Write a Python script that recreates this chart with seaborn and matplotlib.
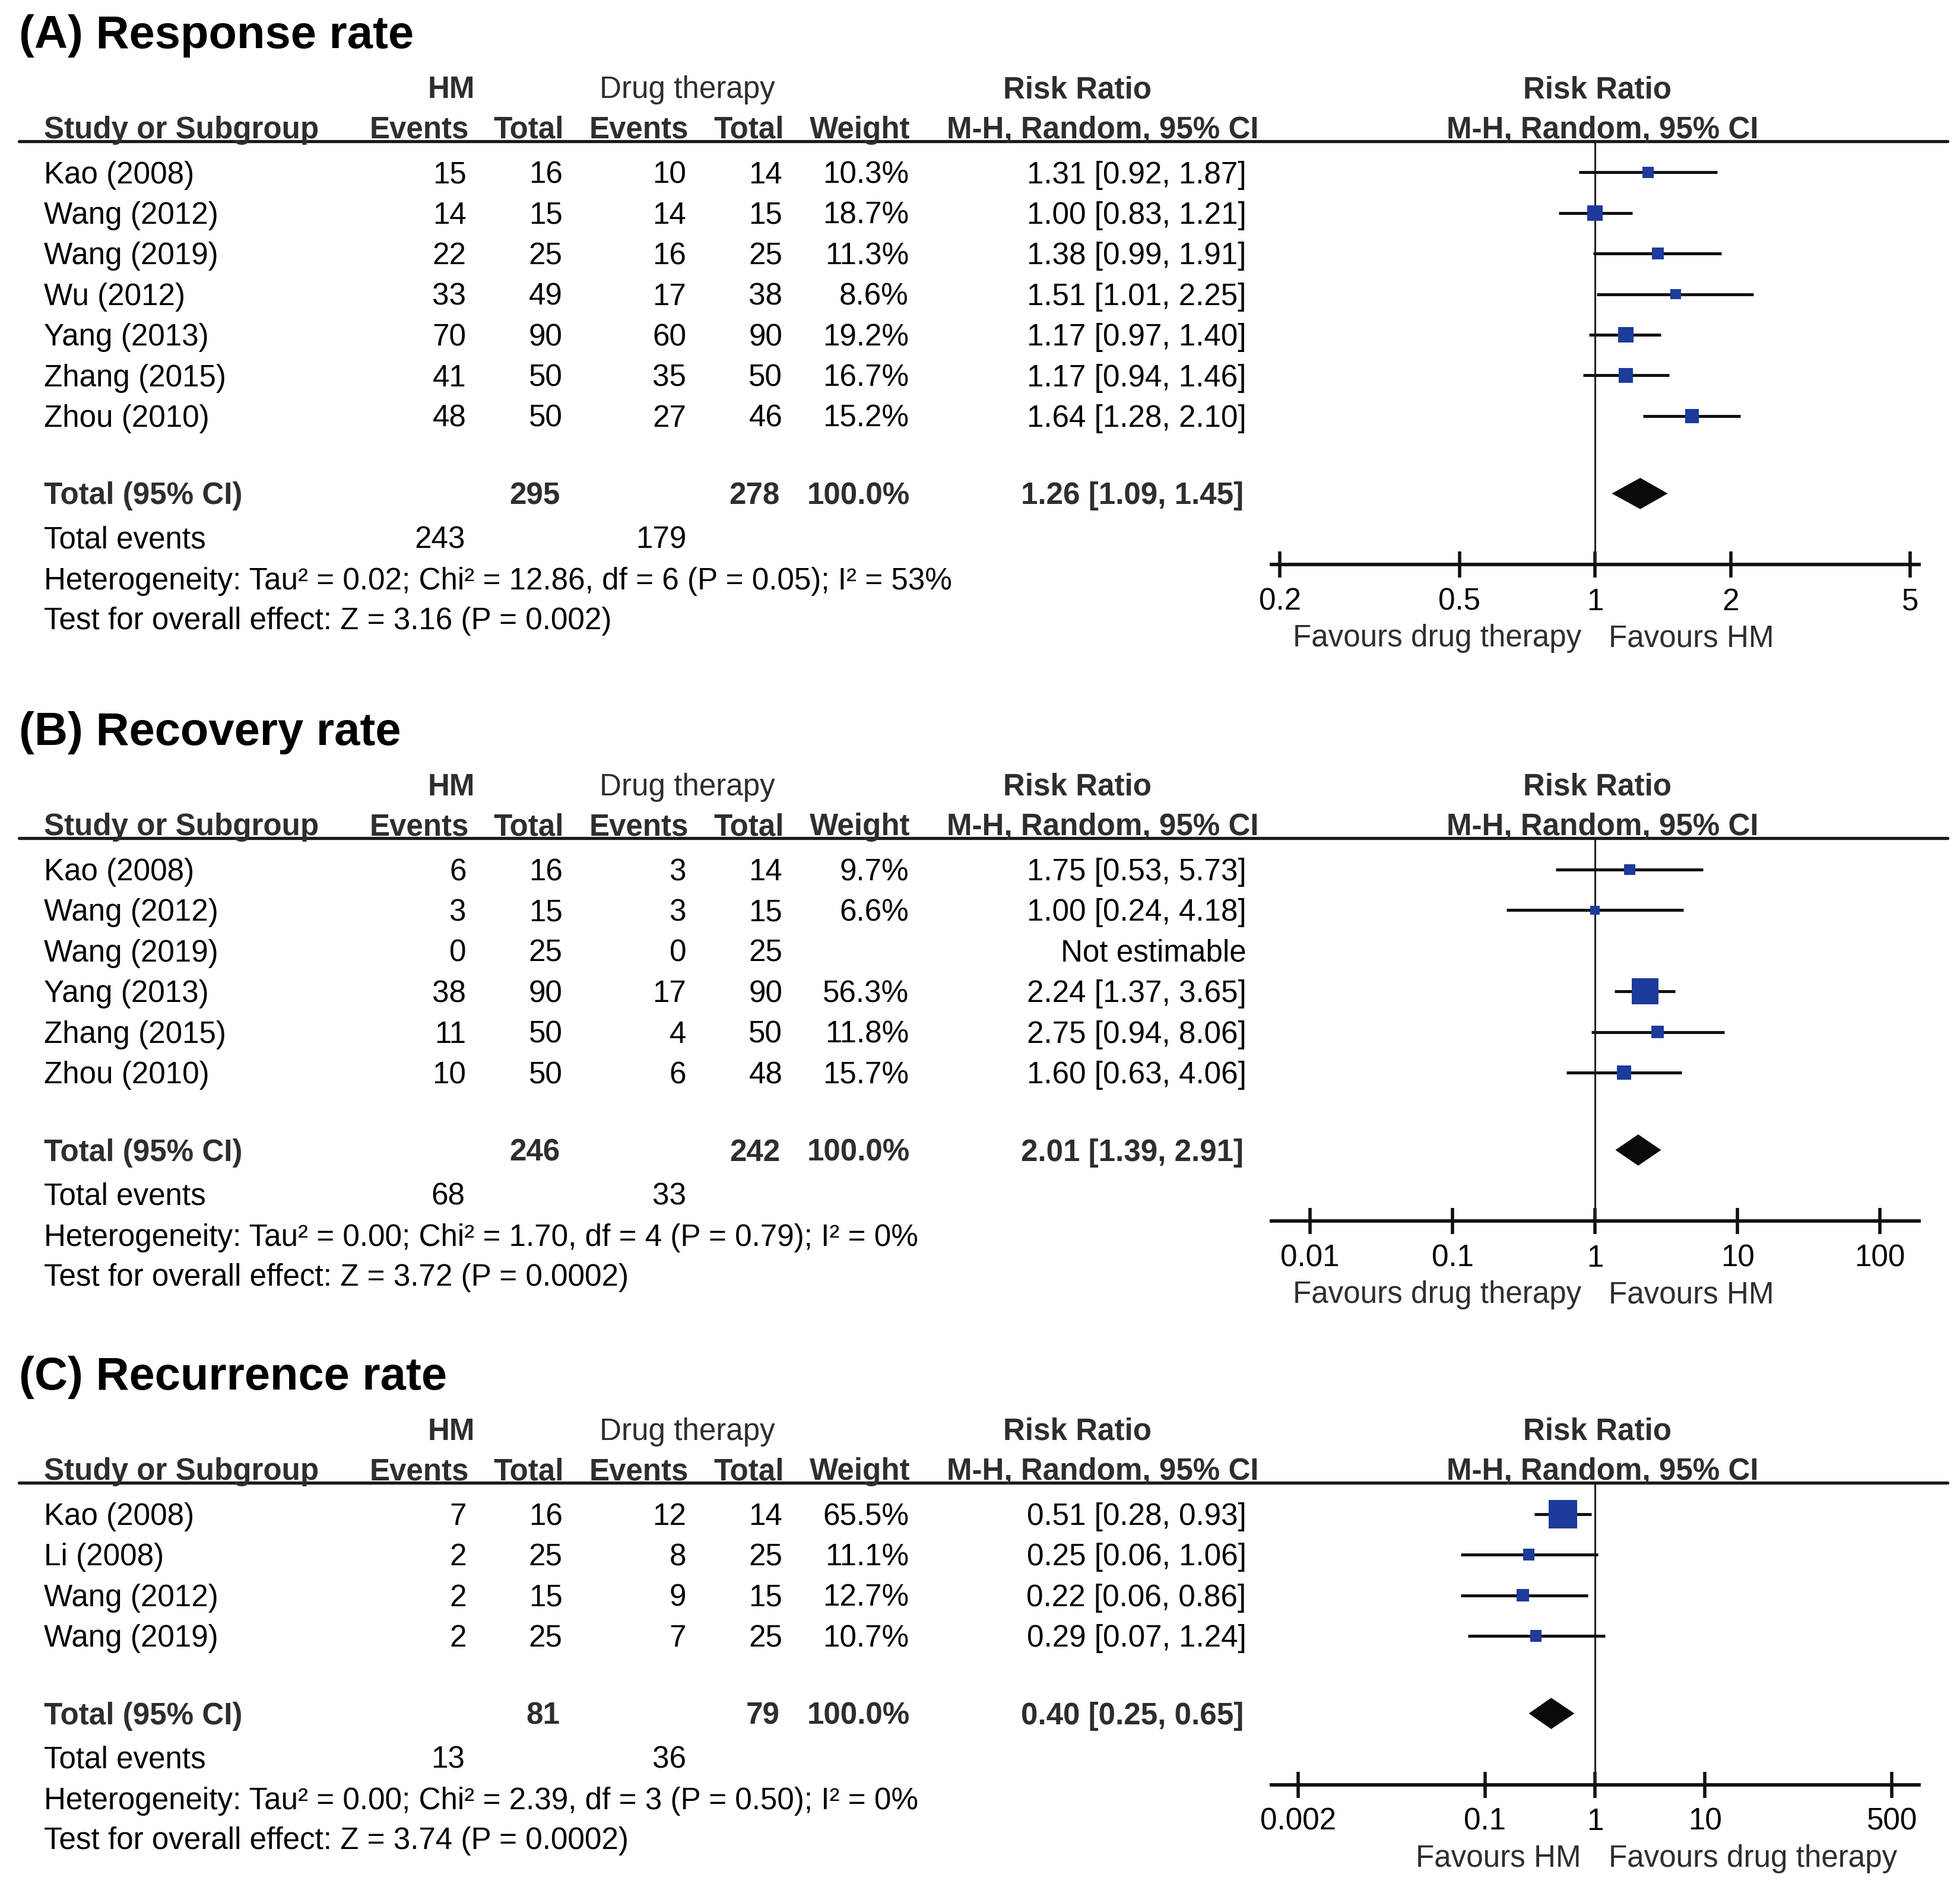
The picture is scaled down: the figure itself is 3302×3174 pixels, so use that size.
import numpy as np
import pandas as pd
import matplotlib
matplotlib.use("Agg")
import matplotlib.pyplot as plt
import seaborn as sns

# ---------------- data ----------------
# (A) Response rate
a_studies = ["Kao (2008)", "Wang (2012)", "Wang (2019)", "Wu (2012)", "Yang (2013)", "Zhang (2015)", "Zhou (2010)"]
a_hm_events = [15, 14, 22, 33, 70, 41, 48]
a_hm_total = [16, 15, 25, 49, 90, 50, 50]
a_dt_events = [10, 14, 16, 17, 60, 35, 27]
a_dt_total = [14, 15, 25, 38, 90, 50, 46]
a_weight = [10.3, 18.7, 11.3, 8.6, 19.2, 16.7, 15.2]
a_rr = [1.31, 1.00, 1.38, 1.51, 1.17, 1.17, 1.64]
a_lo = [0.92, 0.83, 0.99, 1.01, 0.97, 0.94, 1.28]
a_hi = [1.87, 1.21, 1.91, 2.25, 1.40, 1.46, 2.10]
a_sum = [295, 278, 243, 179]          # HM total, drug total, HM events, drug events
a_pooled = [1.26, 1.09, 1.45]
a_het = "Heterogeneity: Tau² = 0.02; Chi² = 12.86, df = 6 (P = 0.05); I² = 53%"
a_test = "Test for overall effect: Z = 3.16 (P = 0.002)"
a_ticks = [0.2, 0.5, 1, 2, 5]
a_ticklabels = ["0.2", "0.5", "1", "2", "5"]
a_favours = ["Favours drug therapy", "Favours HM"]

# (B) Recovery rate
b_studies = ["Kao (2008)", "Wang (2012)", "Wang (2019)", "Yang (2013)", "Zhang (2015)", "Zhou (2010)"]
b_hm_events = [6, 3, 0, 38, 11, 10]
b_hm_total = [16, 15, 25, 90, 50, 50]
b_dt_events = [3, 3, 0, 17, 4, 6]
b_dt_total = [14, 15, 25, 90, 50, 48]
b_weight = [9.7, 6.6, np.nan, 56.3, 11.8, 15.7]
b_rr = [1.75, 1.00, np.nan, 2.24, 2.75, 1.60]
b_lo = [0.53, 0.24, np.nan, 1.37, 0.94, 0.63]
b_hi = [5.73, 4.18, np.nan, 3.65, 8.06, 4.06]
b_sum = [246, 242, 68, 33]
b_pooled = [2.01, 1.39, 2.91]
b_het = "Heterogeneity: Tau² = 0.00; Chi² = 1.70, df = 4 (P = 0.79); I² = 0%"
b_test = "Test for overall effect: Z = 3.72 (P = 0.0002)"
b_ticks = [0.01, 0.1, 1, 10, 100]
b_ticklabels = ["0.01", "0.1", "1", "10", "100"]
b_favours = ["Favours drug therapy", "Favours HM"]

# (C) Recurrence rate
c_studies = ["Kao (2008)", "Li (2008)", "Wang (2012)", "Wang (2019)"]
c_hm_events = [7, 2, 2, 2]
c_hm_total = [16, 25, 15, 25]
c_dt_events = [12, 8, 9, 7]
c_dt_total = [14, 25, 15, 25]
c_weight = [65.5, 11.1, 12.7, 10.7]
c_rr = [0.51, 0.25, 0.22, 0.29]
c_lo = [0.28, 0.06, 0.06, 0.07]
c_hi = [0.93, 1.06, 0.86, 1.24]
c_sum = [81, 79, 13, 36]
c_pooled = [0.40, 0.25, 0.65]
c_het = "Heterogeneity: Tau² = 0.00; Chi² = 2.39, df = 3 (P = 0.50); I² = 0%"
c_test = "Test for overall effect: Z = 3.74 (P = 0.0002)"
c_ticks = [0.002, 0.1, 1, 10, 500]
c_ticklabels = ["0.002", "0.1", "1", "10", "500"]
c_favours = ["Favours HM", "Favours drug therapy"]

# ---------------- style ----------------
sns.set_theme(style="white")
plt.rcParams["font.family"] = ["Liberation Sans", "DejaVu Sans"]

BODY = 18.4
TITLE = 28
HDR = "#2e2e2e"
BLUE = "#1c3b9a"

W, H = 1568.0, 1508.0   # layout grid (reference proportions)


def fx(x):
    return x / W


def fy(y):
    return 1 - y / H


fig = plt.figure(figsize=(16.51, 15.87), dpi=200)


def put(x, y, s, ha="left", bold=False, size=BODY, color="black", half=8.6):
    fig.text(fx(x), fy(y + half), s, ha=ha, va="baseline", fontsize=size,
             fontweight="bold" if bold else "normal", color=color)


def draw_panel(title, line_y, studies, hm_e, hm_t, dt_e, dt_t, weight, rr, lo, hi,
               sums, pooled, het, test, ticks, ticklabels, favours, half_decades):
    rows_y = [line_y + 25 + 32.5 * i for i in range(len(studies))]
    tot_y = rows_y[-1] + 62
    axis_y = tot_y + 57

    # titles and headers
    put(15, line_y - 88, title, bold=True, size=TITLE, half=13.3)
    put(361, line_y - 43, "HM", ha="center", bold=True, color=HDR)
    put(550, line_y - 43, "Drug therapy", ha="center", color=HDR)
    put(862, line_y - 43, "Risk Ratio", ha="center", bold=True, color=HDR)
    put(1278, line_y - 43, "Risk Ratio", ha="center", bold=True, color=HDR)
    h2 = line_y - 11
    put(35, h2, "Study or Subgroup", bold=True, color=HDR)
    put(375, h2, "Events", ha="right", bold=True, color=HDR)
    put(451, h2, "Total", ha="right", bold=True, color=HDR)
    put(551, h2, "Events", ha="right", bold=True, color=HDR)
    put(627, h2, "Total", ha="right", bold=True, color=HDR)
    put(728, h2, "Weight", ha="right", bold=True, color=HDR)
    put(1007, h2, "M-H, Random, 95% CI", ha="right", bold=True, color=HDR)
    put(1282, h2, "M-H, Random, 95% CI", ha="center", bold=True, color=HDR)
    fig.add_artist(plt.Line2D([fx(15), fx(1558)], [fy(line_y), fy(line_y)],
                              transform=fig.transFigure, color="#1a1a1a", lw=1.9))

    # study rows
    for i, y in enumerate(rows_y):
        put(35, y, studies[i])
        put(373, y, str(hm_e[i]), ha="right")
        put(450, y, str(hm_t[i]), ha="right")
        put(549, y, str(dt_e[i]), ha="right")
        put(626, y, str(dt_t[i]), ha="right")
        if not np.isnan(weight[i]):
            put(727, y, f"{weight[i]:.1f}%", ha="right")
            put(997, y, f"{rr[i]:.2f} [{lo[i]:.2f}, {hi[i]:.2f}]", ha="right")
        else:
            put(997, y, "Not estimable", ha="right")

    # totals
    put(35, tot_y, "Total (95% CI)", bold=True, color=HDR)
    put(448, tot_y, str(sums[0]), ha="right", bold=True, color=HDR)
    put(624, tot_y, str(sums[1]), ha="right", bold=True, color=HDR)
    put(728, tot_y, "100.0%", ha="right", bold=True, color=HDR)
    put(995, tot_y, f"{pooled[0]:.2f} [{pooled[1]:.2f}, {pooled[2]:.2f}]", ha="right", bold=True, color=HDR)
    put(35, tot_y + 35, "Total events")
    put(372, tot_y + 35, str(sums[2]), ha="right")
    put(549, tot_y + 35, str(sums[3]), ha="right")
    put(35, tot_y + 68, het)
    put(35, tot_y + 100, test)

    # forest plot
    ax = fig.add_axes([fx(1017), fy(axis_y), fx(1535) - fx(1017), (axis_y - line_y) / H])
    ax.patch.set_visible(False)
    ax.set_xscale("log")

    df = pd.DataFrame({"rr": rr, "lo": lo, "hi": hi, "w": weight, "y": rows_y}).dropna()
    ax.hlines(df["y"], df["lo"], df["hi"], color="#111111", lw=1.8, zorder=2)
    sns.scatterplot(data=df, x="rr", y="y", size="w", sizes=(4.6 * df["w"].min(), 4.6 * df["w"].max()),
                    size_norm=(df["w"].min(), df["w"].max()), marker="s", color=BLUE,
                    linewidth=0, legend=False, ax=ax, zorder=3)
    dh = 12.5
    ax.fill([pooled[1], pooled[0], pooled[2], pooled[0]],
            [tot_y, tot_y - dh, tot_y, tot_y + dh], color="#0a0a0a", zorder=3, lw=0)
    ax.axvline(1, color="#222222", lw=1.1, zorder=1)

    ax.set_xlim(10 ** -half_decades, 10 ** half_decades)
    ax.set_ylim(axis_y, line_y)
    ax.set_xlabel("")
    ax.set_ylabel("")
    ax.set_yticks([])
    ax.set_xticks(ticks)
    ax.set_xticklabels(ticklabels)
    ax.xaxis.set_minor_locator(matplotlib.ticker.NullLocator())
    for side in ["top", "left", "right"]:
        ax.spines[side].set_visible(False)
    ax.spines["bottom"].set_linewidth(2.1)
    ax.spines["bottom"].set_color("#111111")
    ax.tick_params(axis="x", which="major", bottom=True, direction="inout", length=15.5, width=2.0,
                   color="#111111", labelsize=BODY, labelcolor="black", pad=6)

    put(1265, axis_y + 57, favours[0], ha="right", color=HDR)
    put(1287, axis_y + 57, favours[1], ha="left", color=HDR)


draw_panel("(A) Response rate", 113, a_studies, a_hm_events, a_hm_total, a_dt_events, a_dt_total,
           a_weight, a_rr, a_lo, a_hi, a_sum, a_pooled, a_het, a_test, a_ticks, a_ticklabels,
           a_favours, 0.7184)
draw_panel("(B) Recovery rate", 671, b_studies, b_hm_events, b_hm_total, b_dt_events, b_dt_total,
           b_weight, b_rr, b_lo, b_hi, b_sum, b_pooled, b_het, b_test, b_ticks, b_ticklabels,
           b_favours, 2.272)
draw_panel("(C) Recurrence rate", 1187, c_studies, c_hm_events, c_hm_total, c_dt_events, c_dt_total,
           c_weight, c_rr, c_lo, c_hi, c_sum, c_pooled, c_het, c_test, c_ticks, c_ticklabels,
           c_favours, 2.943)

fig.savefig("out.png", dpi=200)
plt.close(fig)
